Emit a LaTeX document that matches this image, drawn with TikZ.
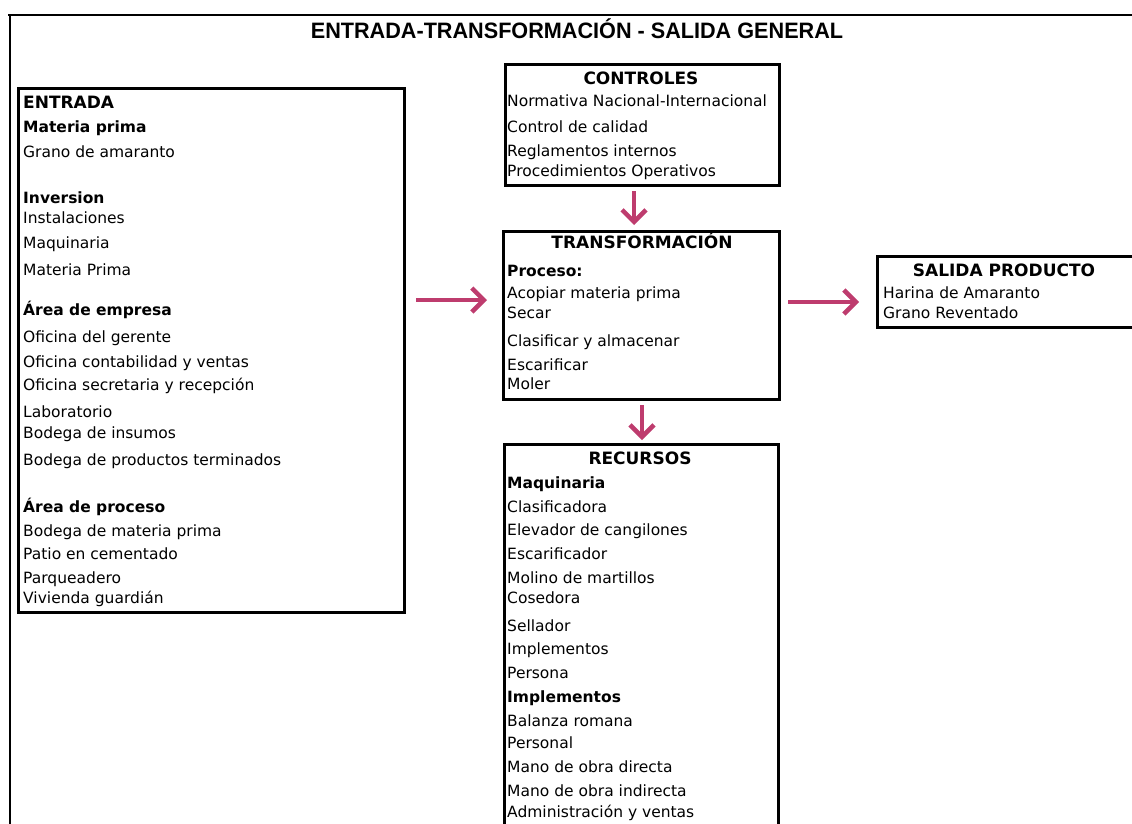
\documentclass[tikz,border=0pt]{standalone}
\usepackage{graphicx}
\usepackage{fontspec}
\setmainfont{DejaVu Sans}
\newfontfamily\headfont{Liberation Sans}
\usetikzlibrary{arrows.meta}
\definecolor{flowpink}{RGB}{190,60,110}
\tikzset{
  frame/.style={line width=2.5pt},
  box/.style={draw, line width=3pt, inner sep=0pt, anchor=north west},
  item/.style={anchor=base west, inner sep=0pt, font=\fontsize{15.5}{18}\selectfont},
  sub/.style={item, font=\fontsize{15.5}{18}\selectfont\bfseries},
  hd/.style={anchor=base, inner sep=0pt, font=\fontsize{17}{20}\selectfont\bfseries},
  hdl/.style={hd, anchor=base west},
  flow/.style={draw=flowpink, line width=4.5pt,
    -{Straight Barb[length=12pt,width=24pt,line width=4.5pt]}},
}
\begin{document}
\begin{tikzpicture}[x=1pt, y=-1pt]
\useasboundingbox (0,0) rectangle (1132,823);
\clip (0,0) rectangle (1132,823);

% outer frame (only top and left edges fall inside the page)
\draw[frame] (8,15) -- (1140,15);
\draw[frame] (10,14) -- (10,830);

% title
\node[anchor=base, inner sep=0pt] (title) at (577,38)
  {\headfont\fontsize{22.3}{26}\selectfont\bfseries\scalebox{0.97}[1]{ENTRADA-TRANSFORMACIÓN - SALIDA GENERAL}};

% boxes
\node[box, minimum width=386, minimum height=524] (entrada) at (17,87) {};
\node[box, minimum width=274, minimum height=121] (ctrl) at (504,63) {};
\node[box, minimum width=276, minimum height=168] (transf) at (502,230) {};
\node[box, minimum width=274, minimum height=420] (recur) at (503,443) {};
\node[box, minimum width=300, minimum height=71] (salida) at (876,255) {};

% ENTRADA contents
\foreach \yy/\st/\txt [count=\i] in {
  108/hdl/ENTRADA,
  132/sub/Materia prima,
  157/item/Grano de amaranto,
  203/sub/Inversion,
  223/item/Instalaciones,
  248/item/Maquinaria,
  275/item/Materia Prima,
  315/sub/Área de empresa,
  342/item/Oficina del gerente,
  367/item/Oficina contabilidad y ventas,
  390/item/Oficina secretaria y recepción,
  417/item/Laboratorio,
  438/item/Bodega de insumos,
  465/item/Bodega de productos terminados,
  512/sub/Área de proceso,
  536/item/Bodega de materia prima,
  559/item/Patio en cementado,
  583/item/Parqueadero,
  603/item/Vivienda guardián}
  \node[\st, name=en\i] at (23,\yy) {\txt};

% CONTROLES contents
\node[hd] (ctrlhd) at (641,84) {CONTROLES};
\foreach \yy/\txt [count=\i] in {
  106/Normativa Nacional-Internacional,
  132/Control de calidad,
  156/Reglamentos internos,
  176/Procedimientos Operativos}
  \node[item, name=ct\i] at (507,\yy) {\txt};

% TRANSFORMACION contents
\node[hd] (transfhd) at (642,248) {TRANSFORMACIÓN};
\foreach \yy/\st/\txt [count=\i] in {
  276/sub/Proceso:,
  298/item/Acopiar materia prima,
  318/item/Secar,
  346/item/Clasificar y almacenar,
  370/item/Escarificar,
  389/item/Moler}
  \node[\st, name=tr\i] at (507,\yy) {\txt};

% RECURSOS contents
\node[hd] (recurhd) at (640,464) {RECURSOS};
\foreach \yy/\st/\txt [count=\i] in {
  488/sub/Maquinaria,
  512/item/Clasificadora,
  535/item/Elevador de cangilones,
  559/item/Escarificador,
  583/item/Molino de martillos,
  603/item/Cosedora,
  631/item/Sellador,
  654/item/Implementos,
  678/item/Persona,
  702/sub/Implementos,
  726/item/Balanza romana,
  748/item/Personal,
  772/item/Mano de obra directa,
  796/item/Mano de obra indirecta,
  817/item/Administración y ventas}
  \node[\st, name=re\i] at (507,\yy) {\txt};

% SALIDA contents
\node[hd] (salidahd) at (1004,276) {SALIDA PRODUCTO};
\node[item] (sa1) at (883,298) {Harina de Amaranto};
\node[item] (sa2) at (883,318) {Grano Reventado};

% connectors
\coordinate (rowA) at (0,300);
\coordinate (rowB) at (0,302);
\coordinate (colA) at (634,0);
\coordinate (colB) at (642,0);
\draw[flow, shorten <=10pt, shorten >=15pt] (entrada.east |- rowA) -- (transf.west |- rowA);
\draw[flow, shorten <=7pt, shorten >=17pt] (transf.east |- rowB) -- (salida.west |- rowB);
\draw[flow, shorten <=4pt, shorten >=5pt] (ctrl.south -| colA) -- (transf.north -| colA);
\draw[flow, shorten <=4pt, shorten >=3pt] (transf.south -| colB) -- (recur.north -| colB);
\end{tikzpicture}
\end{document}
